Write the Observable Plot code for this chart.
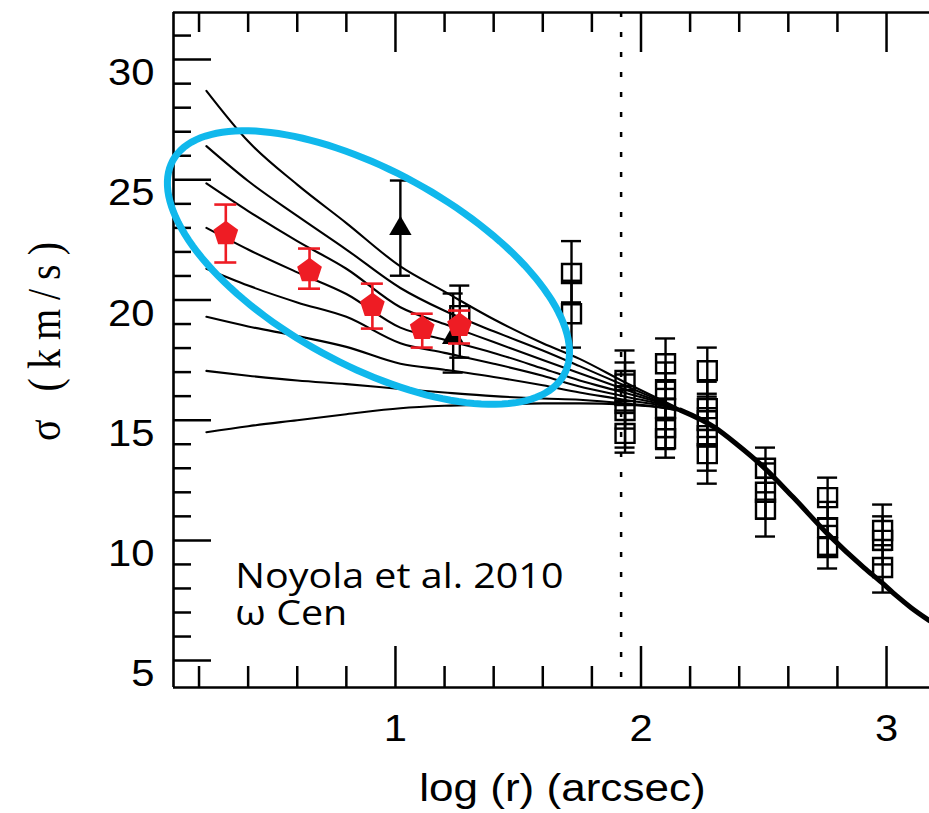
<!DOCTYPE html>
<html>
<head>
<meta charset="utf-8">
<script src="https://cdn.jsdelivr.net/npm/d3@7"></script>
<script src="https://cdn.jsdelivr.net/npm/@observablehq/plot@0.6"></script>
<style>
  html, body { margin: 0; padding: 0; background: #fff; }
  #chart svg { display: block; }
</style>
</head>
<body>
<div id="chart"></div>
<script>
// ---------- axes ----------
const xDomain = [0.096, 3.175];
const yDomain = [3.88, 31.96];
const xLabelTicks = [1, 2, 3];
const xMinorTicks = [0.2, 0.4, 0.6, 0.8, 1.2, 1.4, 1.6, 1.8, 2.2, 2.4, 2.6, 2.8];
const yLabelTicks = [5, 10, 15, 20, 25, 30];
const yMinorTicks = [6, 7, 8, 9, 11, 12, 13, 14, 16, 17, 18, 19, 21, 22, 23, 24, 26, 27, 28, 29, 31];
const xTitle = "log (r) (arcsec)";
const yTitle = "σ (km/s)";
const noteLines = ["Noyola et al. 2010", "ω Cen"];

// ---------- model curves (log r, sigma) ----------
const curveX = [0.23, 0.4, 0.6, 0.8, 1.02, 1.2, 1.4, 1.6, 1.75, 1.93, 2.16, 2.3];
const model1 = [28.7, 26.6, 24.8, 23.2, 21.4, 20.35, 19.2, 18.2, 17.55, 16.6, 15.45, 14.7];
const model2 = [26.4, 24.95, 23.5, 22.1, 20.5, 19.55, 18.7, 17.9, 17.25, 16.45, 15.44, 14.7];
const model3 = [24.85, 23.7, 22.45, 21.3, 19.7, 19.0, 18.25, 17.5, 16.95, 16.3, 15.43, 14.7];
const model4 = [23.0, 22.1, 21.15, 20.25, 18.85, 18.35, 17.8, 17.15, 16.65, 16.15, 15.42, 14.7];
const model5 = [21.3, 20.6, 19.9, 19.3, 18.2, 17.8, 17.35, 16.85, 16.4, 16.0, 15.41, 14.7];
const model6 = [19.3, 18.9, 18.5, 18.05, 17.35, 17.1, 16.8, 16.45, 16.15, 15.85, 15.4, 14.7];
const model7 = [17.05, 16.85, 16.65, 16.5, 16.3, 16.15, 16.0, 15.9, 15.85, 15.7, 15.39, 14.7];
const model8 = [14.5, 14.75, 15.0, 15.25, 15.5, 15.6, 15.65, 15.7, 15.7, 15.65, 15.38, 14.7];
const tailX = [2.16, 2.3, 2.39, 2.5, 2.62, 2.76, 2.91, 2.98, 3.04, 3.1, 3.175];
const tailY = [15.42, 14.7, 14.0, 13.04, 11.79, 10.27, 8.85, 8.25, 7.7, 7.2, 6.66];
const coreRadius = 1.919;   // dotted vertical line

// ---------- open squares (ground-based data) ----------
const sqX  = [1.717, 1.717, 1.935, 1.935, 1.935, 1.935, 2.10, 2.10, 2.10, 2.10, 2.10, 2.27, 2.27, 2.27, 2.27, 2.27, 2.507, 2.507, 2.507, 2.76, 2.76, 2.76, 2.984, 2.984, 2.984, 1.262];
const sqY  = [21.1, 19.43, 16.65, 16.02, 15.4, 14.45, 17.35, 16.27, 15.48, 14.69, 14.23, 17.06, 15.48, 14.98, 14.36, 13.61, 13.0, 12.0, 11.3, 11.78, 10.53, 9.7, 10.41, 10.0, 8.87, 19.35];
const sqLo = [19.9, 18.02, 15.4, 14.65, 13.86, 13.65, 16.3, 15.1, 14.3, 13.44, 13.8, 15.98, 14.3, 13.9, 12.36, 12.9, 12.0, 10.9, 10.16, 10.9, 9.4, 8.83, 9.6, 9.0, 7.83, 17.6];
const sqHi = [22.45, 20.8, 17.9, 17.4, 16.9, 15.3, 18.4, 17.4, 16.6, 15.9, 15.0, 18.02, 16.6, 16.1, 15.5, 14.6, 13.86, 13.2, 12.6, 12.61, 11.6, 10.6, 11.49, 11.0, 9.8, 20.6];

// ---------- filled triangles ----------
const triX  = [1.020, 1.235];
const triY  = [22.97, 18.44];
const triLo = [21.01, 16.98];
const triHi = [24.97, 20.27];

// ---------- red pentagons (HST data) ----------
const redX  = [0.309, 0.650, 0.906, 1.109, 1.261];
const redY  = [22.76, 21.22, 19.77, 18.81, 18.94];
const redLo = [21.56, 20.47, 18.81, 18.02, 18.19];
const redHi = [23.97, 22.14, 20.68, 19.43, 19.56];

// ---------- annotation ellipse ----------
const ellipseCenter = {x: 0.89, y: 21.35};

// ---------- layout / style ----------
const W = 929, H = 813, mL = 173, mR = 0, mT = 12, mB = 126;
const innerW = W - mL - mR, innerH = H - mT - mB;
const RED = "#ee1c24", CYAN = "#10b8ec";
const STRETCH = 1.16;

const curves = [model1, model2, model3, model4, model5, model6, model7, model8];
const curveRows = curves.flatMap((ys, k) => curveX.map((x, i) => ({x, y: ys[i], id: k})));
const tailRows = tailX.map((x, i) => ({x, y: tailY[i]}));
const rows = (X, Y, L, Hh) => X.map((x, i) => ({x, y: Y[i], lo: L[i], hi: Hh[i]}));
const squares = rows(sqX, sqY, sqLo, sqHi);
const triangles = rows(triX, triY, triLo, triHi);
const reds = rows(redX, redY, redLo, redHi);

function errorBars(data, color, half, sw) {
  return [
    Plot.ruleX(data, {x: "x", y1: "lo", y2: "hi", stroke: color, strokeWidth: sw}),
    Plot.ruleY(data, {y: "lo", x1: "x", x2: "x", insetLeft: -half, insetRight: -half, stroke: color, strokeWidth: sw}),
    Plot.ruleY(data, {y: "hi", x1: "x", x2: "x", insetLeft: -half, insetRight: -half, stroke: color, strokeWidth: sw})
  ];
}

const pentagon = {
  draw(ctx, size) {
    const R = Math.sqrt(size / Math.PI);
    for (let k = 0; k < 5; k++) {
      const a = -Math.PI / 2 + k * 2 * Math.PI / 5;
      const px = R * Math.cos(a), py = R * Math.sin(a);
      if (k) ctx.lineTo(px, py); else ctx.moveTo(px, py);
    }
    ctx.closePath();
  }
};
const ellipseShape = {
  draw(ctx) {
    const rx = 223, ry = 97, N = 144;
    for (let i = 0; i <= N; i++) {
      const t = 2 * Math.PI * i / N;
      const px = rx * Math.cos(t), py = ry * Math.sin(t);
      if (i) ctx.lineTo(px, py); else ctx.moveTo(px, py);
    }
    ctx.closePath();
  }
};

const noteRows = [{x: 0.348, y: 6.5, t: noteLines.join("\n")}];

const chart = Plot.plot({
  width: W, height: H,
  marginLeft: mL, marginRight: mR, marginTop: mT, marginBottom: mB,
  x: {domain: xDomain},
  y: {domain: yDomain},
  style: {fontFamily: "'Liberation Sans', Arial, sans-serif", background: "#fff", color: "#000"},
  marks: [
    // inward ticks
    Plot.ruleX(xMinorTicks, {x: d => d, insetTop: innerH - 21, strokeWidth: 2.5}),
    Plot.ruleX(xLabelTicks, {x: d => d, insetTop: innerH - 41, strokeWidth: 2.5}),
    Plot.ruleX(xMinorTicks, {x: d => d, insetBottom: innerH - 20, strokeWidth: 2.5}),
    Plot.ruleX(xLabelTicks, {x: d => d, insetBottom: innerH - 40, strokeWidth: 2.5}),
    Plot.ruleY(yMinorTicks, {y: d => d, insetRight: innerW - 18, strokeWidth: 2.5}),
    Plot.ruleY(yLabelTicks, {y: d => d, insetRight: innerW - 38, strokeWidth: 2.5}),
    // frame
    Plot.ruleX([xDomain[0]], {x: d => d, strokeWidth: 2.6}),
    Plot.ruleY(yDomain, {y: d => d, strokeWidth: 2.6}),
    // axes labels
    Plot.axisY(yLabelTicks, {anchor: "left", tickSize: 0, tickPadding: 19, dy: 14, fontSize: 36, label: null, tickFormat: d => String(d)}),
    Plot.axisX(xLabelTicks, {anchor: "bottom", tickSize: 0, tickPadding: 28, fontSize: 36, label: null, tickFormat: d => String(d)}),
    // dotted line
    Plot.ruleX([coreRadius], {x: d => d, strokeDasharray: "5,15", strokeWidth: 2.5}),
    // models
    Plot.line(curveRows, {x: "x", y: "y", z: "id", curve: "monotone-x", stroke: "#000", strokeWidth: 2.1}),
    Plot.line(tailRows, {x: "x", y: "y", curve: "monotone-x", stroke: "#000", strokeWidth: 5}),
    // squares
    ...errorBars(squares, "#000", 10, 2.4),
    Plot.dot(squares, {x: "x", y: "y", symbol: "square", r: 10.7, fill: "none", stroke: "#000", strokeWidth: 2.4}),
    // triangles
    ...errorBars(triangles, "#000", 10, 2.4),
    Plot.dot(triangles, {x: "x", y: "y", symbol: "triangle", r: 8.3, fill: "#000"}),
    // red pentagons
    ...errorBars(reds, RED, 11, 2.6),
    Plot.dot(reds, {x: "x", y: "y", symbol: pentagon, r: 13, fill: RED}),
    // ellipse
    Plot.dot([ellipseCenter], {x: "x", y: "y", symbol: ellipseShape, r: 1, rotate: 28.7, fill: "none", stroke: CYAN, strokeWidth: 7}),
    // text
    Plot.text(noteRows, {x: "x", y: "y", text: "t", textAnchor: "start", lineAnchor: "bottom", lineHeight: 1.08, fontFamily: "'Open Sans', sans-serif", fontSize: 34, fill: "#000"}),
    Plot.text([{x: 1.68, t: xTitle}], {x: "x", text: "t", frameAnchor: "bottom", dy: 113, lineAnchor: "bottom", textAnchor: "middle", fontSize: 38, fill: "#000"}),
    Plot.text([{y: 18.44, t: yTitle}], {y: "y", text: "t", frameAnchor: "left", dx: -128, rotate: -90, textAnchor: "middle", lineAnchor: "middle", fontFamily: "'Liberation Serif', 'Times New Roman', serif", fontSize: 40, fill: "#000"})
  ]
});

document.getElementById("chart").appendChild(chart);

// horizontal stretch of all text (the reference glyphs are wide)
chart.querySelectorAll("text").forEach(t => {
  const tr = t.getAttribute("transform");
  if (tr && /^translate\([^)]*\)/.test(tr)) {
    t.setAttribute("transform", tr.replace(/^(translate\([^)]*\))/, `$1 scale(${STRETCH},1)`));
  } else {
    const x = parseFloat(t.getAttribute("x") || 0);
    t.setAttribute("transform", `translate(${x},0) scale(${STRETCH},1) translate(${-x},0)` + (tr ? " " + tr : ""));
  }
});

// fit the rotated y title into the reference's box (screen y ~232..442, right edge x ~70)
const yt = [...chart.querySelectorAll("text")].find(t => t.textContent === yTitle);
if (yt) {
  const svgBox = chart.getBoundingClientRect();
  let r = yt.getBoundingClientRect();
  if (r.height > 0) {
    const spacing = Math.max(0, (208 - r.height) / yTitle.length);
    yt.style.letterSpacing = spacing.toFixed(2) + "px";
    r = yt.getBoundingClientRect();
    const shiftY = 337 - ((r.top + r.bottom) / 2 - svgBox.top);
    const shiftX = 71 - (r.right - svgBox.left);
    yt.setAttribute("transform", `translate(${shiftX.toFixed(2)},${shiftY.toFixed(2)}) ` + yt.getAttribute("transform"));
  }
}
</script>
</body>
</html>
